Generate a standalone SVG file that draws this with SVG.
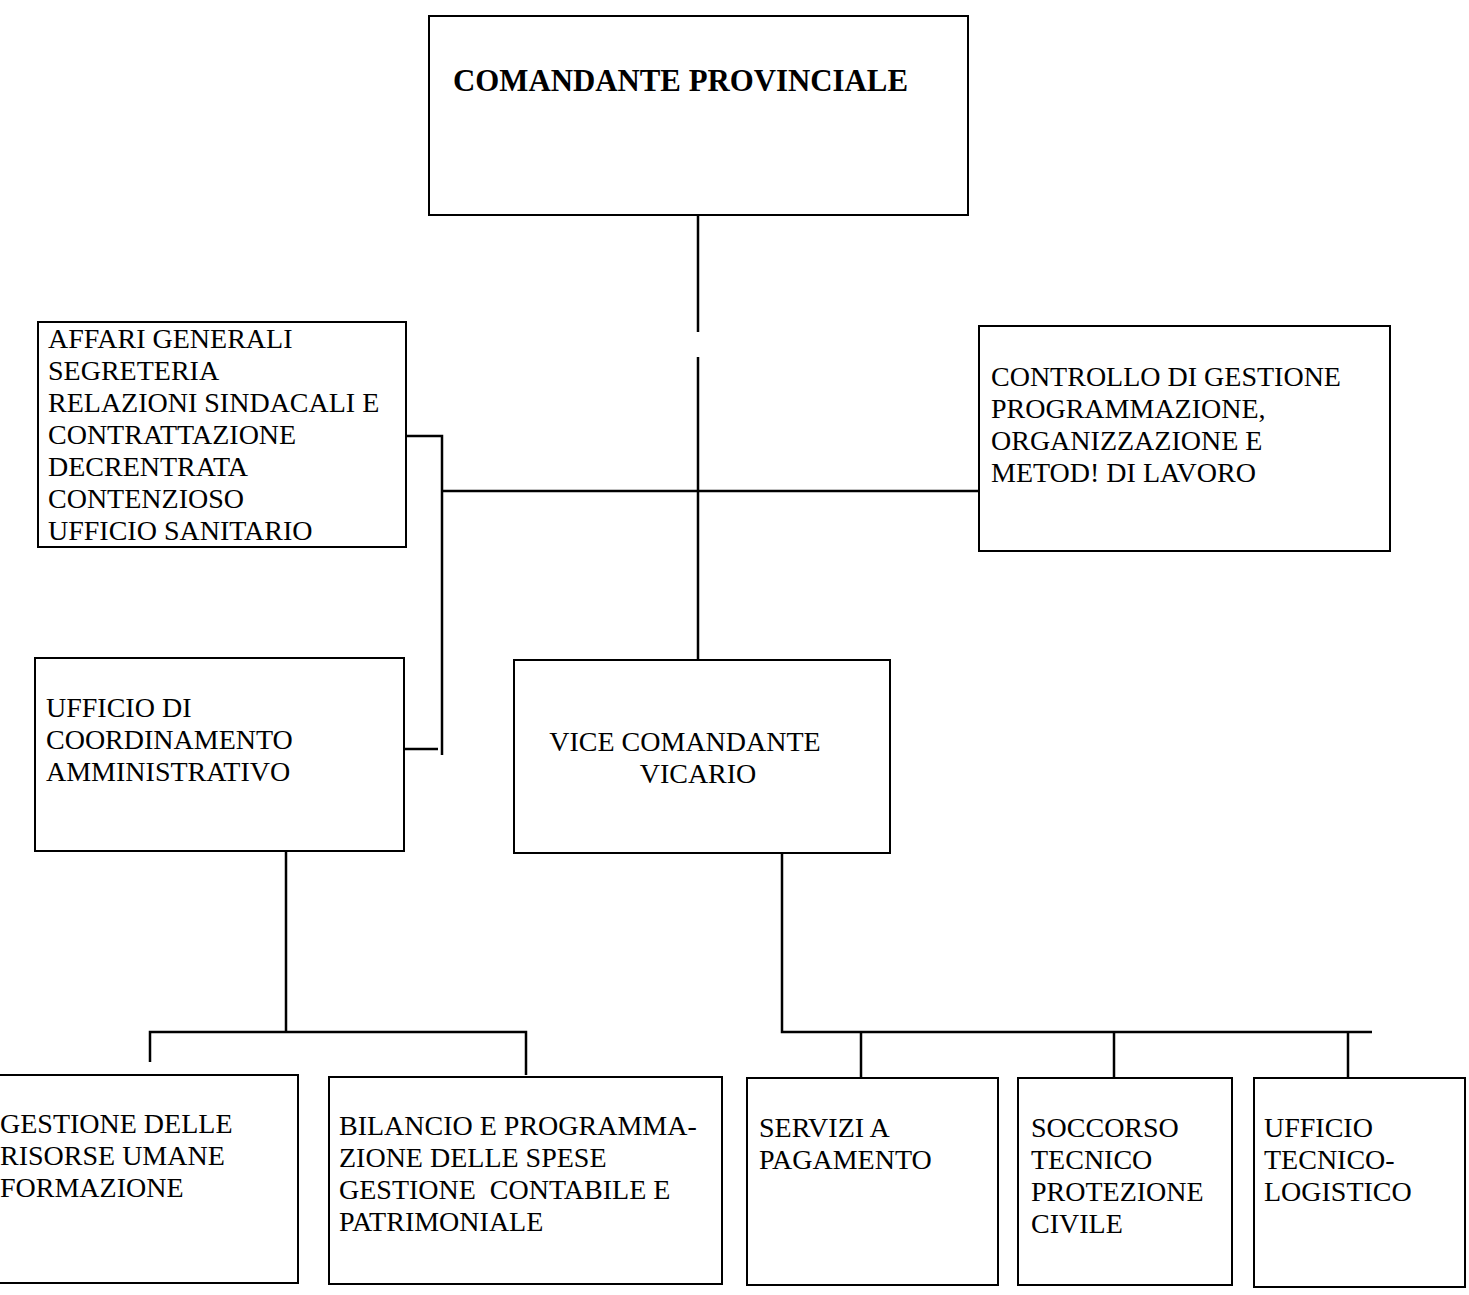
<svg xmlns="http://www.w3.org/2000/svg" width="1469" height="1295" viewBox="0 0 1469 1295">
<style>
.box{fill:#fff;stroke:#000;stroke-width:2}
.t{font-family:"Liberation Serif","Times New Roman",serif;font-size:28px;fill:#000}
.b{font-family:"Liberation Serif","Times New Roman",serif;font-size:32px;font-weight:bold;fill:#000}
.c{fill:none;stroke:#000;stroke-width:2.5}
</style>
<rect width="1469" height="1295" fill="#fff"/>
<g id="connectors">
<path class="c" d="M698 215V332M698 357V660"/>
<path class="c" d="M442 491H979"/>
<path class="c" d="M406 436H442V755M404 749H438"/>
<path class="c" d="M286 851V1032M150 1062V1032H526V1075"/>
<path class="c" d="M782 853V1032H1372M861 1032V1078M1114 1032V1078M1348 1032V1080"/>
</g>
<g id="n-comandante">
<rect class="box" x="429" y="16" width="539" height="199"/>
<text class="b" x="453" y="91" textLength="455" lengthAdjust="spacingAndGlyphs">COMANDANTE PROVINCIALE</text>
</g>
<g id="n-affari">
<rect class="box" x="38" y="322" width="368" height="225"/>
<text class="t" x="48" y="348">AFFARI GENERALI</text>
<text class="t" x="48" y="380">SEGRETERIA</text>
<text class="t" x="48" y="412">RELAZIONI SINDACALI E</text>
<text class="t" x="48" y="444">CONTRATTAZIONE</text>
<text class="t" x="48" y="476">DECRENTRATA</text>
<text class="t" x="48" y="508">CONTENZIOSO</text>
<text class="t" x="48" y="540">UFFICIO SANITARIO</text>
</g>
<g id="n-controllo">
<rect class="box" x="979" y="326" width="411" height="225"/>
<text class="t" x="991" y="386">CONTROLLO DI GESTIONE</text>
<text class="t" x="991" y="418">PROGRAMMAZIONE,</text>
<text class="t" x="991" y="450">ORGANIZZAZIONE E</text>
<text class="t" x="991" y="482">METOD! DI LAVORO</text>
</g>
<g id="n-coordinamento">
<rect class="box" x="35" y="658" width="369" height="193"/>
<text class="t" x="46" y="717">UFFICIO DI</text>
<text class="t" x="46" y="749">COORDINAMENTO</text>
<text class="t" x="46" y="781">AMMINISTRATIVO</text>
</g>
<g id="n-vice">
<rect class="box" x="514" y="660" width="376" height="193"/>
<text class="t" x="685" y="751" text-anchor="middle">VICE COMANDANTE</text>
<text class="t" x="698" y="783" text-anchor="middle">VICARIO</text>
</g>
<g id="n-gestione">
<rect class="box" x="-2" y="1075" width="300" height="208"/>
<text class="t" x="0" y="1133">GESTIONE DELLE</text>
<text class="t" x="0" y="1165">RISORSE UMANE</text>
<text class="t" x="0" y="1197">FORMAZIONE</text>
</g>
<g id="n-bilancio">
<rect class="box" x="329" y="1077" width="393" height="207"/>
<text class="t" x="339" y="1135">BILANCIO E PROGRAMMA-</text>
<text class="t" x="339" y="1167">ZIONE DELLE SPESE</text>
<text class="t" x="339" y="1199" xml:space="preserve">GESTIONE  CONTABILE E</text>
<text class="t" x="339" y="1231">PATRIMONIALE</text>
</g>
<g id="n-servizi">
<rect class="box" x="747" y="1078" width="251" height="207"/>
<text class="t" x="759" y="1137">SERVIZI A</text>
<text class="t" x="759" y="1169">PAGAMENTO</text>
</g>
<g id="n-soccorso">
<rect class="box" x="1018" y="1078" width="214" height="207"/>
<text class="t" x="1031" y="1137">SOCCORSO</text>
<text class="t" x="1031" y="1169">TECNICO</text>
<text class="t" x="1031" y="1201">PROTEZIONE</text>
<text class="t" x="1031" y="1233">CIVILE</text>
</g>
<g id="n-tecnico">
<rect class="box" x="1254" y="1078" width="211" height="209"/>
<text class="t" x="1264" y="1137">UFFICIO</text>
<text class="t" x="1264" y="1169">TECNICO-</text>
<text class="t" x="1264" y="1201">LOGISTICO</text>
</g>
</svg>
